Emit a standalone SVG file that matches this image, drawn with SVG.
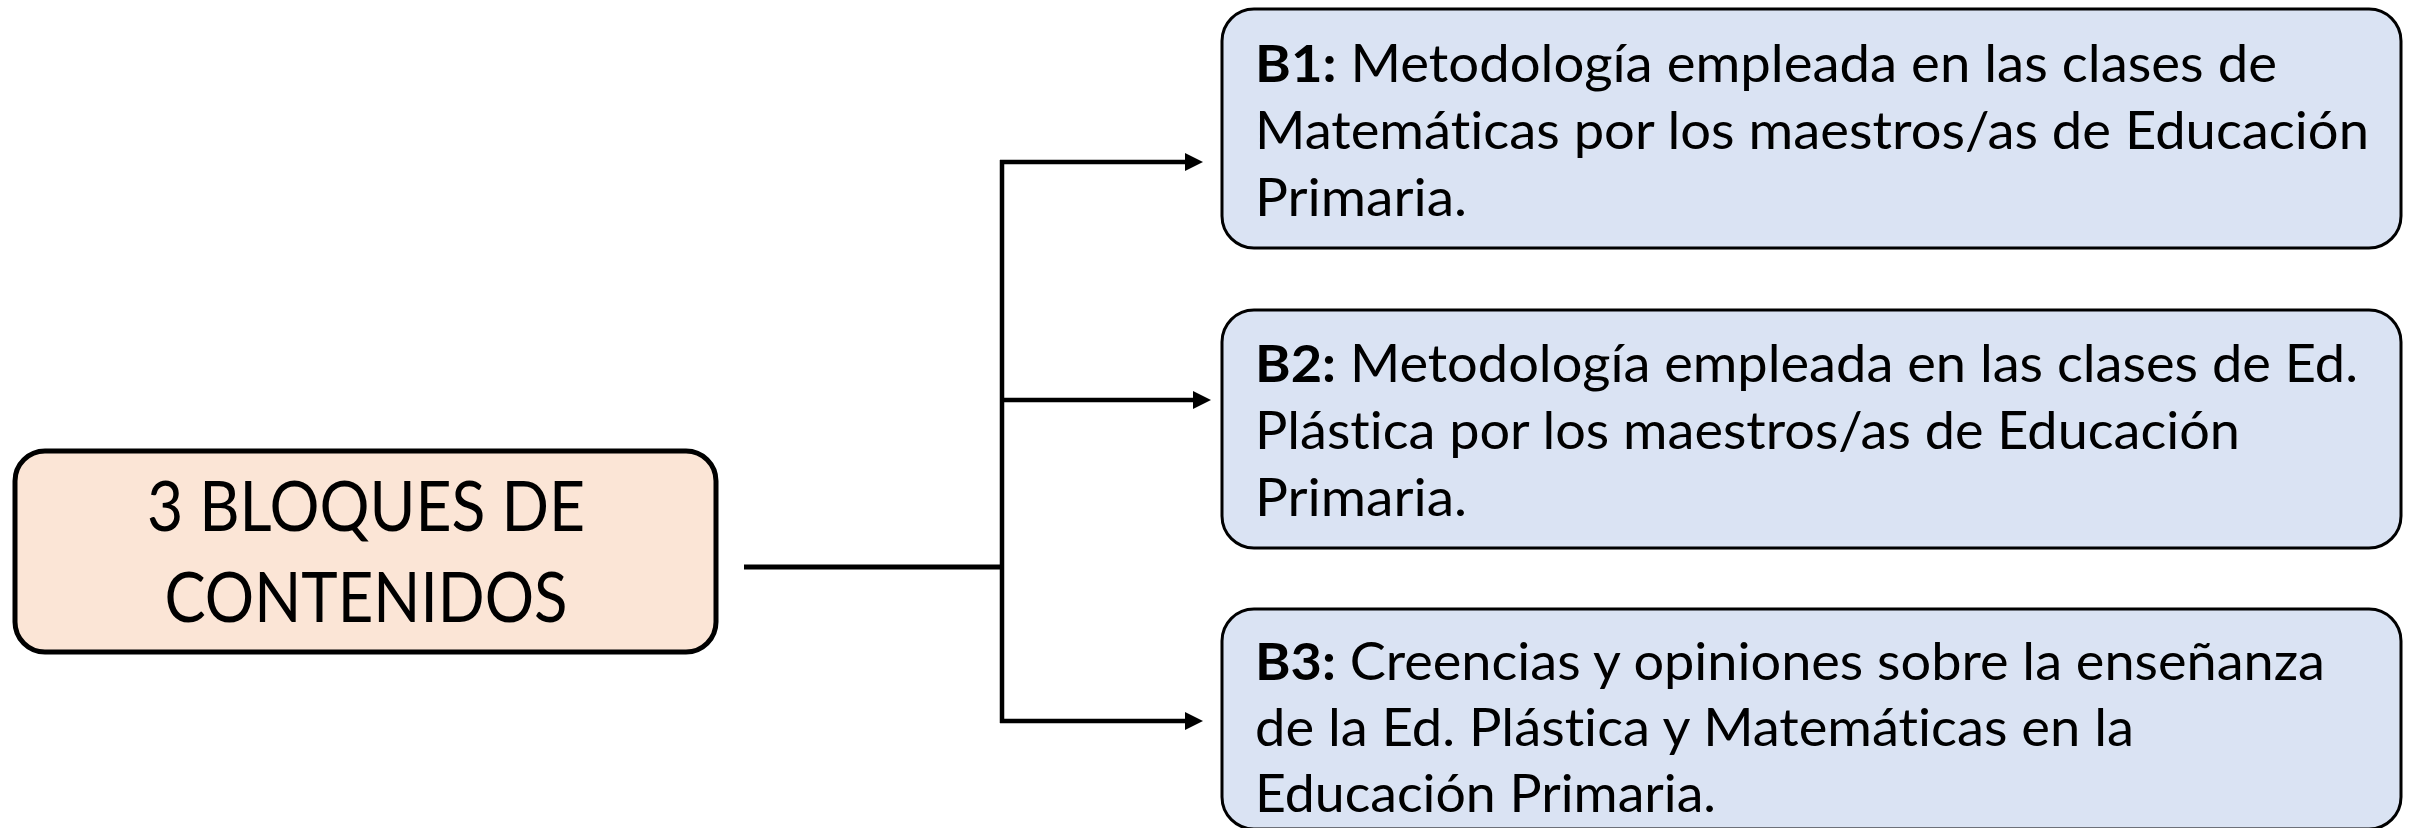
<svg xmlns="http://www.w3.org/2000/svg" width="2409" height="828" viewBox="0 0 2409 828">
<style>
.bg{fill:#ffffff}
.main{fill:#FBE5D6;stroke:#000;stroke-width:5}
.blk{fill:#DAE3F3;stroke:#000;stroke-width:3}
.t{font-family:Lato,"Liberation Sans",sans-serif;fill:#000;font-variant-ligatures:none;font-feature-settings:"liga" 0}
.big{font-size:70px}
.txt{font-size:52px}
.b{font-weight:bold}
.conn{fill:none;stroke:#000;stroke-width:4.5}
</style>
<defs>
<marker id="arr" markerUnits="userSpaceOnUse" markerWidth="18" markerHeight="18" refX="8" refY="9" orient="auto">
<path d="M0,0 L18,9 L0,18 z" fill="#000"/>
</marker>
</defs>
<rect class="bg" x="0" y="0" width="2409" height="828"/>
<g id="connectors">
<line class="conn" x1="744" y1="567" x2="1004" y2="567" style="stroke-width:5"/>
<line class="conn" x1="1002" y1="160" x2="1002" y2="723"/>
<line class="conn" x1="1000" y1="162" x2="1193" y2="162" marker-end="url(#arr)"/>
<line class="conn" x1="1002" y1="400" x2="1201" y2="400" marker-end="url(#arr)"/>
<line class="conn" x1="1000" y1="721" x2="1193" y2="721" marker-end="url(#arr)"/>
</g>
<g id="node-main">
<rect class="main" x="15" y="451" width="701" height="201" rx="30"/>
<text class="t big" x="366" y="531" text-anchor="middle" textLength="438" lengthAdjust="spacingAndGlyphs">3 BLOQUES DE</text>
<text class="t big" x="366" y="622" text-anchor="middle" textLength="403" lengthAdjust="spacingAndGlyphs">CONTENIDOS</text>
</g>
<g id="node-b1">
<rect class="blk" x="1222" y="9" width="1179" height="239" rx="32"/>
<text class="t txt" x="1255" y="82" textLength="1022" lengthAdjust="spacingAndGlyphs"><tspan class="b">B1:</tspan> Metodología empleada en las clases de</text>
<text class="t txt" x="1255" y="149" textLength="1114" lengthAdjust="spacingAndGlyphs">Matemáticas por los maestros/as de Educación</text>
<text class="t txt" x="1255" y="216" textLength="212" lengthAdjust="spacingAndGlyphs">Primaria.</text>
</g>
<g id="node-b2">
<rect class="blk" x="1222" y="310" width="1179" height="238" rx="32"/>
<text class="t txt" x="1255" y="382" textLength="1103" lengthAdjust="spacingAndGlyphs"><tspan class="b">B2:</tspan> Metodología empleada en las clases de Ed.</text>
<text class="t txt" x="1255" y="449" textLength="985" lengthAdjust="spacingAndGlyphs">Plástica por los maestros/as de Educación</text>
<text class="t txt" x="1255" y="516" textLength="212" lengthAdjust="spacingAndGlyphs">Primaria.</text>
</g>
<g id="node-b3">
<rect class="blk" x="1222" y="609" width="1179" height="220" rx="32"/>
<text class="t txt" x="1255" y="680" textLength="1070" lengthAdjust="spacingAndGlyphs"><tspan class="b">B3:</tspan> Creencias y opiniones sobre la enseñanza</text>
<text class="t txt" x="1255" y="746" textLength="879" lengthAdjust="spacingAndGlyphs">de la Ed. Plástica y Matemáticas en la</text>
<text class="t txt" x="1255" y="812" textLength="461" lengthAdjust="spacingAndGlyphs">Educación Primaria.</text>
</g>
</svg>
